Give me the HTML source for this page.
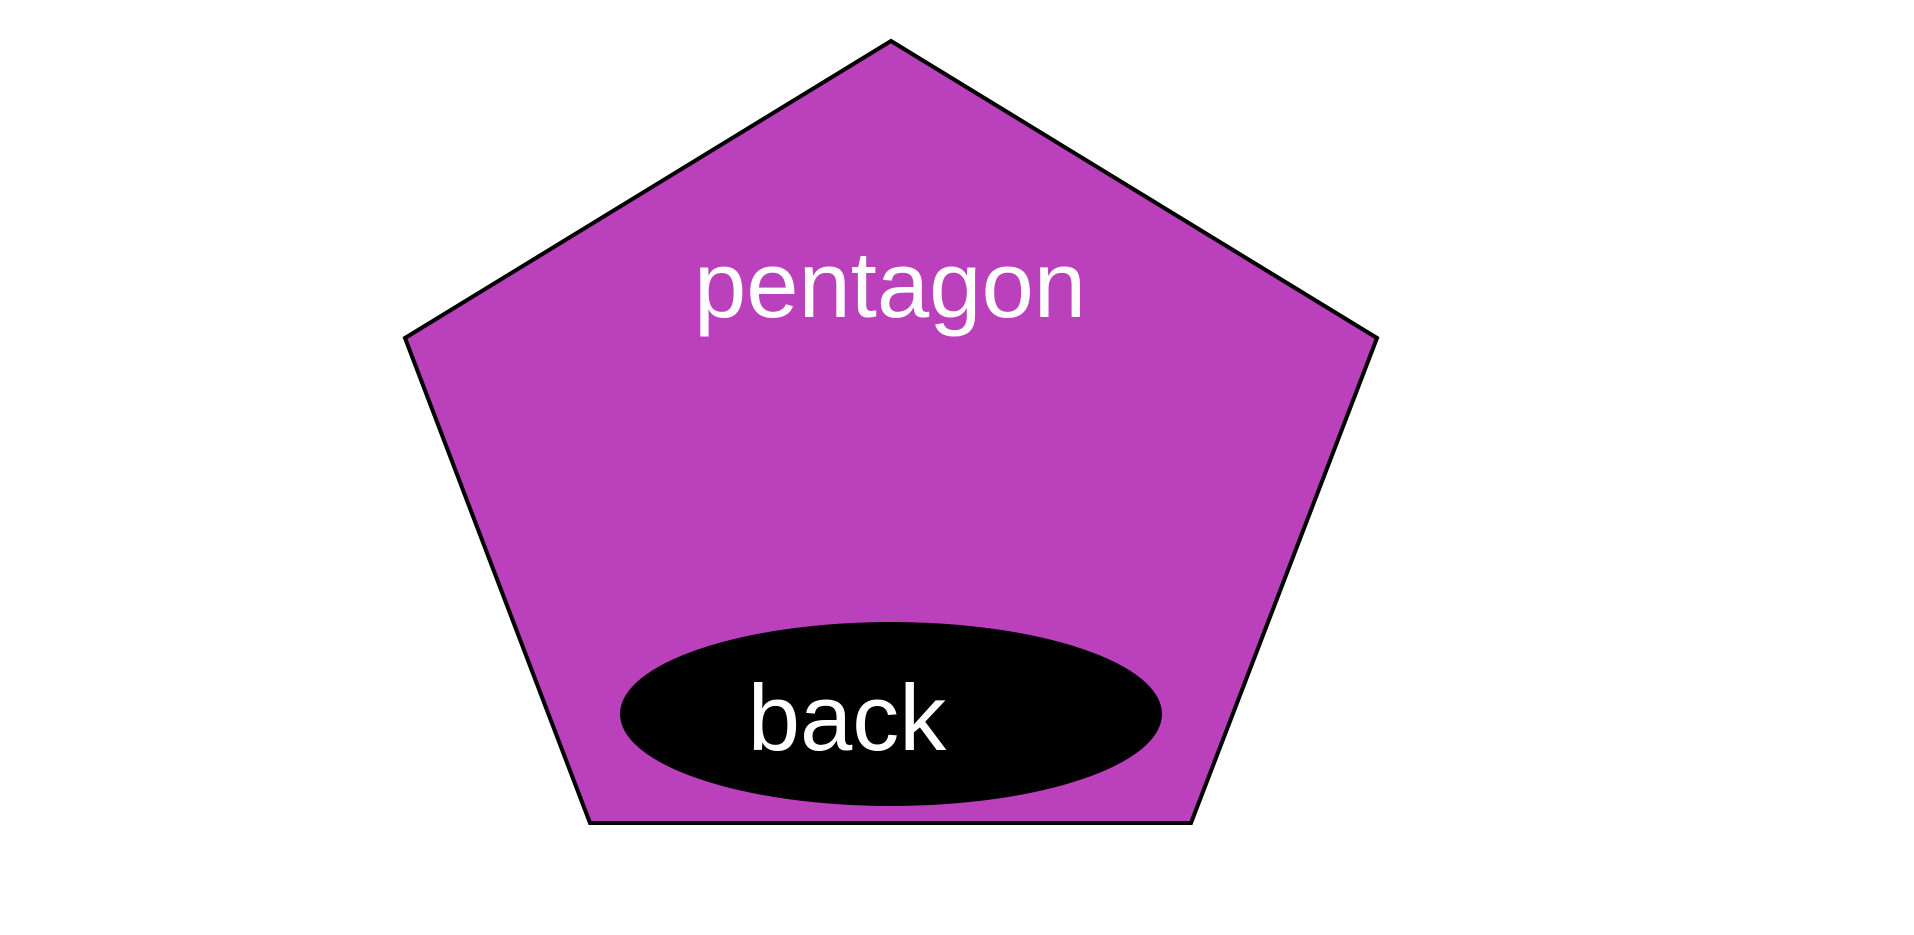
<!DOCTYPE html>
<html><head><style>html,body{margin:0;padding:0;background:#fff;}svg{display:block}</style></head>
<body>
<svg width="1914" height="935" viewBox="0 0 1914 935" xmlns="http://www.w3.org/2000/svg">
<polygon points="891,41 1377,338 1191,823 590,823 405,338" fill="#bb40bb" stroke="#000" stroke-width="4" stroke-linejoin="miter"/>
<ellipse cx="891" cy="714" rx="271" ry="92" fill="#000"/>
<text x="890" y="317" text-anchor="middle" font-family="Liberation Sans, Arial, sans-serif" font-size="94" fill="#fff">pentagon</text>
<text x="847" y="750" text-anchor="middle" font-family="Liberation Sans, Arial, sans-serif" font-size="94" fill="#fff">back</text>
</svg>
</body></html>
